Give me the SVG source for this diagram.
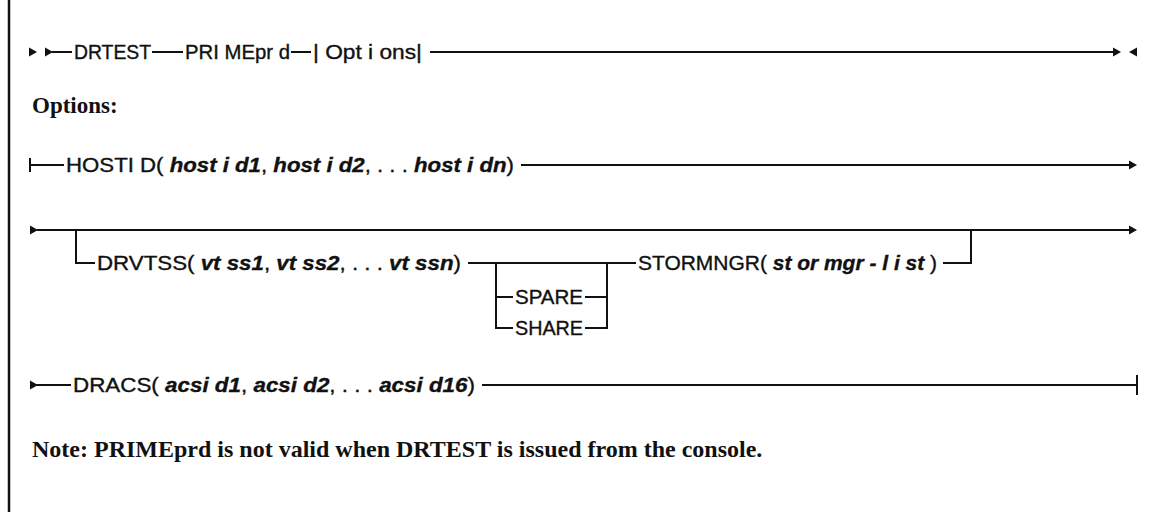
<svg xmlns="http://www.w3.org/2000/svg" width="1153" height="512" viewBox="0 0 1153 512">
<style>
.ln{stroke:#111;stroke-width:2;fill:none}
.ah{fill:#111}
.t{font-family:"Liberation Sans",Arial,sans-serif;font-size:20px;fill:#111;stroke:#111;stroke-width:0.35}
.v{font-style:italic;font-weight:bold}
.h{font-family:"Liberation Serif","Times New Roman",serif;font-weight:bold;fill:#111}
</style>
<defs>
<path id="ar" d="M0,-4.5 L8,0 L0,4.5 Z"/>
<path id="al" d="M0,-4.5 L-8,0 L0,4.5 Z"/>
</defs>
<rect width="1153" height="512" fill="#fff"/>
<line x1="9" y1="0" x2="9" y2="512" stroke="#111" stroke-width="2.5"/>

<g id="connectors">
  <!-- row 1 -->
  <use href="#ar" class="ah" x="29" y="52"/>
  <use href="#ar" class="ah" x="45" y="52"/>
  <line class="ln" x1="52" y1="52" x2="72" y2="52"/>
  <line class="ln" x1="152" y1="52" x2="183" y2="52"/>
  <line class="ln" x1="291" y1="52" x2="311" y2="52"/>
  <line class="ln" x1="430" y1="52" x2="1114" y2="52"/>
  <use href="#ar" class="ah" x="1113" y="52"/>
  <use href="#al" class="ah" x="1137" y="52"/>
  <!-- HOSTID row -->
  <line class="ln" x1="30" y1="158" x2="30" y2="172"/>
  <line class="ln" x1="30" y1="165" x2="64" y2="165"/>
  <line class="ln" x1="521" y1="165" x2="1130" y2="165"/>
  <use href="#ar" class="ah" x="1129" y="165"/>
  <!-- DRVTSS row -->
  <use href="#ar" class="ah" x="30" y="230"/>
  <line class="ln" x1="37" y1="230" x2="1130" y2="230"/>
  <use href="#ar" class="ah" x="1129" y="230"/>
  <polyline class="ln" points="76,230 76,263 95,263"/>
  <line class="ln" x1="468" y1="263" x2="636" y2="263"/>
  <polyline class="ln" points="496,263 496,328 513,328"/>
  <line class="ln" x1="496" y1="297" x2="513" y2="297"/>
  <polyline class="ln" points="607,263 607,328 585,328"/>
  <line class="ln" x1="585" y1="297" x2="607" y2="297"/>
  <polyline class="ln" points="943,263 971,263 971,230"/>
  <!-- DRACS row -->
  <use href="#ar" class="ah" x="30" y="385"/>
  <line class="ln" x1="36" y1="385" x2="71" y2="385"/>
  <line class="ln" x1="482" y1="385" x2="1137" y2="385"/>
  <line class="ln" x1="1137" y1="375" x2="1137" y2="395"/>
</g>

<g id="n-drtest"><text class="t" x="74" y="59" textLength="77" lengthAdjust="spacingAndGlyphs">DRTEST</text></g>
<g id="n-primeprd"><text class="t" x="185" y="59" textLength="105" lengthAdjust="spacingAndGlyphs">PRI MEpr d</text></g>
<g id="n-options-ref"><text class="t" x="313" y="59" textLength="109" lengthAdjust="spacingAndGlyphs">| Opt i ons|</text></g>

<g id="n-options-title"><text class="h" x="32" y="113" font-size="23">Options:</text></g>

<g id="n-hostid"><text class="t" x="66" y="172" textLength="448" lengthAdjust="spacingAndGlyphs">HOSTI D( <tspan class="v">host i d1</tspan>, <tspan class="v">host i d2</tspan>, . . . <tspan class="v">host i dn</tspan>)</text></g>

<g id="n-drvtss"><text class="t" x="97" y="270" textLength="364" lengthAdjust="spacingAndGlyphs">DRVTSS( <tspan class="v">vt ss1</tspan>, <tspan class="v">vt ss2</tspan>, . . . <tspan class="v">vt ssn</tspan>)</text></g>
<g id="n-spare"><text class="t" x="515" y="304" textLength="68" lengthAdjust="spacingAndGlyphs">SPARE</text></g>
<g id="n-share"><text class="t" x="515" y="335" textLength="68" lengthAdjust="spacingAndGlyphs">SHARE</text></g>
<g id="n-stormngr"><text class="t" x="638" y="270" textLength="299" lengthAdjust="spacingAndGlyphs">STORMNGR( <tspan class="v">st or mgr - l i st</tspan> )</text></g>

<g id="n-dracs"><text class="t" x="73" y="392" textLength="402" lengthAdjust="spacingAndGlyphs">DRACS( <tspan class="v">acsi d1</tspan>, <tspan class="v">acsi d2</tspan>, . . . <tspan class="v">acsi d16</tspan>)</text></g>

<g id="n-note"><text class="h" x="32" y="457" font-size="24">Note: PRIMEprd is not valid when DRTEST is issued from the console.</text></g>
</svg>
